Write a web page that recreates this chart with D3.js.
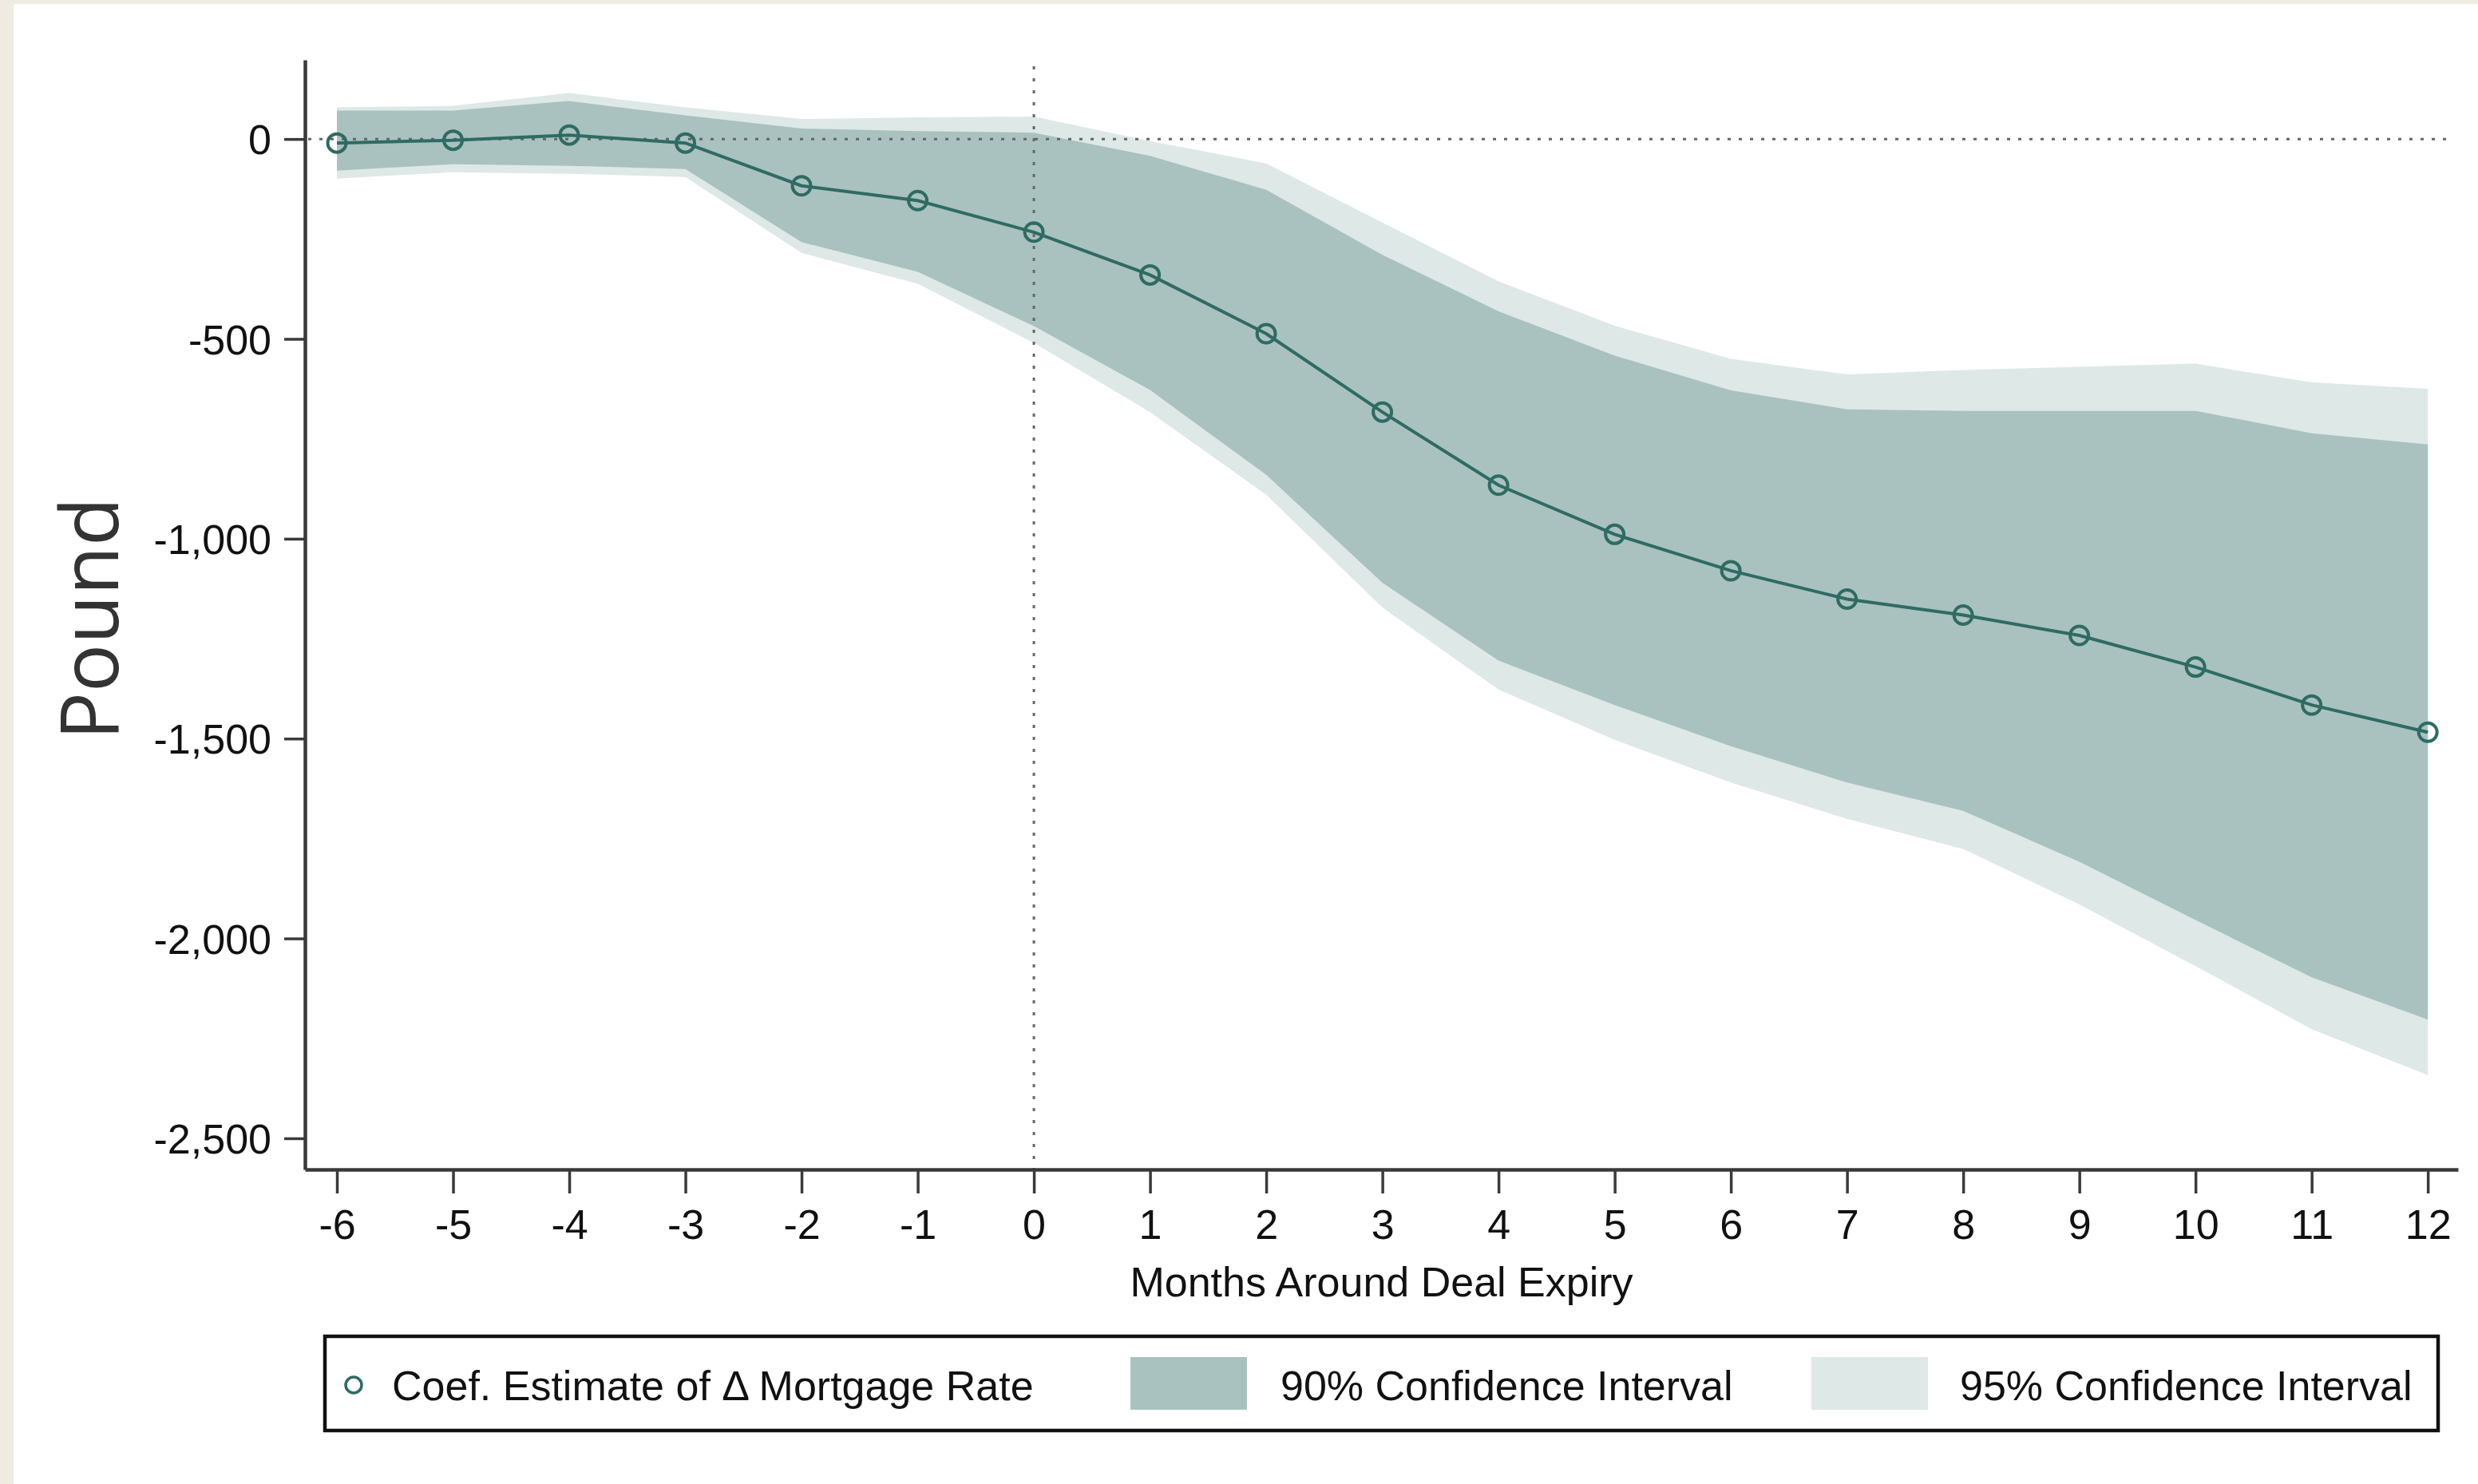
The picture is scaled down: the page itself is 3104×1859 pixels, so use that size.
<!DOCTYPE html>
<html>
<head>
<meta charset="utf-8">
<script src="https://cdn.jsdelivr.net/npm/d3@7"></script>
<style>
  html, body { margin: 0; padding: 0; background: #efebe2; }
  svg { display: block; }
</style>
</head>
<body>
<script>
// Event-study estimates: months relative to fixed-rate deal expiry
const months = [-6, -5, -4, -3, -2, -1, 0, 1, 2, 3, 4, 5, 6, 7, 8, 9, 10, 11, 12];
const coef = [-10, -3, 10, -10, -117, -154, -233, -340, -487, -683, -866, -989, -1080, -1151, -1191, -1242, -1321, -1416, -1484];
const ci90Upper = [71, 71, 95, 59, 26, 20, 16, -42, -127, -290, -431, -542, -629, -676, -680, -680, -680, -736, -764];
const ci90Lower = [-79, -63, -67, -75, -258, -332, -468, -628, -840, -1110, -1305, -1416, -1519, -1610, -1681, -1808, -1954, -2097, -2203];
const ci95Upper = [79, 83, 115, 79, 50, 54, 56, -5, -61, -209, -356, -467, -550, -589, -578, -570, -562, -609, -625];
const ci95Lower = [-99, -83, -87, -95, -285, -362, -510, -683, -890, -1172, -1377, -1503, -1610, -1701, -1776, -1915, -2069, -2227, -2342];
const yTicks = [0, -500, -1000, -1500, -2000, -2500];
const legendLabels = ["Coef. Estimate of \u0394 Mortgage Rate", "90% Confidence Interval", "95% Confidence Interval"];

const W = 3104, H = 1859;
const lineColor = "#2e6b63";
const band90 = "#a9c2bf";
const band95 = "#dee8e6";
const axisColor = "#3a3a3a";
const font = "'Liberation Sans', Arial, sans-serif";
const fontSize = 52;

const svg = d3.select("body").append("svg")
  .attr("width", W).attr("height", H);

// page panel
svg.append("rect").attr("x", 17).attr("y", 5).attr("width", W - 17).attr("height", H - 5).attr("fill", "#ffffff");

// plot region
const plotL = 382, plotR = 3079, plotT = 75, plotB = 1465;
const x = d3.scaleLinear().domain([-6.275, 12.26]).range([plotL, plotR]);
const y = d3.scaleLinear().domain([-2578, 198]).range([plotB, plotT]);

const rows = months.map((m, i) => ({
  m, c: coef[i], u90: ci90Upper[i], l90: ci90Lower[i], u95: ci95Upper[i], l95: ci95Lower[i]
}));

// plain hyphen for negatives, comma thousands
const hyphen = f => v => f(v).replace("\u2212", "-");

// confidence bands
svg.append("path").datum(rows)
  .attr("fill", band95)
  .attr("d", d3.area().x(d => x(d.m)).y0(d => y(d.l95)).y1(d => y(d.u95)));
svg.append("path").datum(rows)
  .attr("fill", band90)
  .attr("d", d3.area().x(d => x(d.m)).y0(d => y(d.l90)).y1(d => y(d.u90)));

// reference lines at zero
svg.append("line")
  .attr("x1", plotL + 4).attr("x2", plotR - 8)
  .attr("y1", y(0)).attr("y2", y(0))
  .attr("stroke", "#666").attr("stroke-width", 3).attr("stroke-dasharray", "4,10");
svg.append("line")
  .attr("x1", x(0)).attr("x2", x(0))
  .attr("y1", plotT + 8).attr("y2", plotB)
  .attr("stroke", "#666").attr("stroke-width", 3).attr("stroke-dasharray", "4,11");

// coefficient line and markers
svg.append("path").datum(rows)
  .attr("fill", "none").attr("stroke", lineColor).attr("stroke-width", 4)
  .attr("d", d3.line().x(d => x(d.m)).y(d => y(d.c)));
svg.selectAll("circle.pt").data(rows).enter().append("circle")
  .attr("class", "pt")
  .attr("cx", d => x(d.m)).attr("cy", d => y(d.c)).attr("r", 11.5)
  .attr("fill", "none").attr("stroke", lineColor).attr("stroke-width", 4);

// axes
const yAxis = svg.append("g").attr("transform", `translate(${plotL},0)`)
  .call(d3.axisLeft(y).tickValues(yTicks).tickSize(26).tickSizeOuter(0).tickPadding(16)
    .tickFormat(hyphen(d3.format(","))));
const xAxis = svg.append("g").attr("transform", `translate(0,${plotB})`)
  .call(d3.axisBottom(x).tickValues(months).tickSize(30).tickSizeOuter(0).tickPadding(20)
    .tickFormat(hyphen(d3.format("d"))));
[yAxis, xAxis].forEach(g => {
  g.select(".domain").attr("stroke", axisColor).attr("stroke-width", 4.5);
  g.selectAll(".tick line").attr("stroke", axisColor).attr("stroke-width", 3.5);
  g.selectAll(".tick text").attr("fill", "#111").attr("font-family", font).attr("font-size", fontSize);
});
xAxis.selectAll(".tick text").attr("dy", "0.71em");
yAxis.selectAll(".tick text").attr("dy", "0.36em");

// axis titles
svg.append("text")
  .attr("x", (plotL + plotR) / 2).attr("y", 1624)
  .attr("text-anchor", "middle").attr("font-family", font).attr("font-size", fontSize).attr("fill", "#111")
  .text("Months Around Deal Expiry");
svg.append("text")
  .attr("transform", "translate(148,775) rotate(-90)")
  .attr("text-anchor", "middle").attr("font-family", "'Open Sans', 'Noto Sans', sans-serif")
  .attr("font-size", 100).attr("fill", "#333")
  .text("Pound");

// legend
const lg = svg.append("g");
lg.append("rect").attr("x", 407).attr("y", 1674).attr("width", 2647).attr("height", 118)
  .attr("fill", "#fff").attr("stroke", "#111").attr("stroke-width", 4.5);
lg.append("circle").attr("cx", 443).attr("cy", 1735).attr("r", 10)
  .attr("fill", "none").attr("stroke", lineColor).attr("stroke-width", 3.5);
lg.append("rect").attr("x", 1416).attr("y", 1700).attr("width", 146).attr("height", 66).attr("fill", band90);
lg.append("rect").attr("x", 2269).attr("y", 1700).attr("width", 146).attr("height", 66).attr("fill", band95);
const legendX = [491, 1604, 2455];
legendLabels.forEach((t, i) => {
  lg.append("text").attr("x", legendX[i]).attr("y", 1735).attr("dy", "0.36em")
    .attr("font-family", font).attr("font-size", fontSize).attr("fill", "#111").text(t);
});
</script>
</body>
</html>
